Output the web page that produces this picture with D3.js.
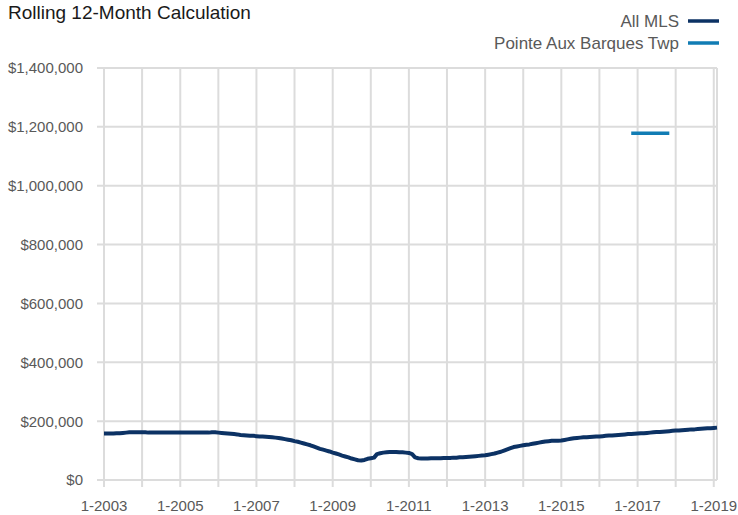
<!DOCTYPE html>
<html>
<head>
<meta charset="utf-8">
<script src="https://cdn.jsdelivr.net/npm/d3@7"></script>
<style>
  body { margin: 0; background: #fff; }
  svg { display: block; font-family: "Liberation Sans", Arial, sans-serif; }
</style>
</head>
<body>
<div id="chart"></div>
<script>
// All MLS rolling 12-month median price, in $ thousands, one row per year (Jan..Dec)
const mlsStartYear = 2003;
const mlsByYear = [
  [158,158,158,158,159,159,160,161,162,162,162,162], // 2003
  [162,162,161,161,161,161,161,161,161,161,161,161], // 2004
  [161,161,161,161,161,161,161,161,161,161,162,162], // 2005
  [161,160,159,158,157,156,155,153,152,151,150,150], // 2006
  [149,148,148,147,146,145,144,143,141,139,137,135], // 2007
  [132,130,127,124,121,118,114,110,106,103,100,97],  // 2008
  [93,90,87,83,80,77,73,70,67,66,68,72],             // 2009
  [74,76,88,91,93,94,95,95,95,94,94,93],             // 2010
  [92,88,77,74,73,73,73,74,74,74,74,75],             // 2011
  [75,75,76,76,77,77,78,79,80,81,82,83],             // 2012
  [84,86,88,90,93,96,100,104,108,112,114,116],       // 2013
  [118,120,121,123,125,127,129,131,132,133,133,133], // 2014
  [134,136,138,140,142,143,144,145,145,146,147,148], // 2015
  [148,149,150,151,151,152,153,154,155,156,156,157], // 2016
  [158,159,159,160,161,162,163,163,164,165,166,167], // 2017
  [168,168,169,170,171,172,172,173,174,175,176,176], // 2018
  [177,178]                                          // 2019
];

// Pointe Aux Barques Twp, 11-2016 .. 11-2017, in $ thousands
const pointeStart = [2016, 10]; // year, month index
const pointeValues = [1178,1178,1178,1178,1178,1178,1178,1178,1178,1178,1178,1178,1178];

const yTicks = [0, 200000, 400000, 600000, 800000, 1000000, 1200000, 1400000];
const seriesNames = ["All MLS", "Pointe Aux Barques Twp"];
const seriesColors = ["#0c3264", "#117cb4"];

const mls = [];
mlsByYear.forEach((row, i) => row.forEach((v, m) => {
  mls.push({date: new Date(mlsStartYear + i, m, 1), value: v * 1000});
}));
const pointe = pointeValues.map((v, i) => ({
  date: new Date(pointeStart[0], pointeStart[1] + i, 1), value: v * 1000
}));

const W = 738, H = 515;
const plotL = 104, plotR = 717, plotT = 68, plotB = 480;

const svg = d3.select("#chart").append("svg")
  .attr("width", W).attr("height", H);

const x = d3.scaleTime()
  .domain([new Date(2003, 0, 1), new Date(2019, 1, 1)])
  .range([plotL, plotR]);
const y = d3.scaleLinear()
  .domain([0, 1400000])
  .range([plotB, plotT]);

const grid = "#dcdcdc";

// horizontal grid + left ticks
svg.append("g").selectAll("line")
  .data(yTicks).enter().append("line")
  .attr("x1", plotL - 7).attr("x2", plotR)
  .attr("y1", d => y(d)).attr("y2", d => y(d))
  .attr("stroke", grid).attr("stroke-width", 2);

// vertical grid every year + bottom ticks
const years = x.ticks(d3.timeYear.every(1));
svg.append("g").selectAll("line")
  .data(years).enter().append("line")
  .attr("x1", d => x(d)).attr("x2", d => x(d))
  .attr("y1", plotT).attr("y2", plotB + 7)
  .attr("stroke", grid).attr("stroke-width", 2);

// right border
svg.append("line")
  .attr("x1", plotR).attr("x2", plotR).attr("y1", plotT).attr("y2", plotB)
  .attr("stroke", grid).attr("stroke-width", 2);

// y labels
const fmt = d3.format("$,");
svg.append("g").selectAll("text")
  .data(yTicks).enter().append("text")
  .attr("x", 83).attr("y", d => y(d)).attr("dy", "0.36em")
  .attr("text-anchor", "end")
  .attr("fill", "#595959").attr("font-size", 15)
  .text(d => fmt(d));

// x labels every other year
svg.append("g").selectAll("text")
  .data(years.filter(d => (d.getFullYear() - 2003) % 2 === 0)).enter().append("text")
  .attr("x", d => x(d)).attr("y", 511)
  .attr("text-anchor", "middle")
  .attr("fill", "#595959").attr("font-size", 15)
  .text(d => "1-" + d.getFullYear());

const line = d3.line()
  .x(d => x(d.date))
  .y(d => y(d.value));

svg.append("path").datum(pointe)
  .attr("d", line).attr("fill", "none")
  .attr("stroke", seriesColors[1]).attr("stroke-width", 3.5);

svg.append("path").datum(mls)
  .attr("d", line).attr("fill", "none")
  .attr("stroke", seriesColors[0]).attr("stroke-width", 4)
  .attr("stroke-linejoin", "round");

// title
svg.append("text")
  .attr("x", 8).attr("y", 19)
  .attr("font-size", 19).attr("fill", "#1a1a1a")
  .text("Rolling 12-Month Calculation");

// legend
const legend = svg.selectAll(".legend")
  .data(seriesNames).enter().append("g")
  .attr("class", "legend")
  .attr("transform", (d, i) => "translate(0," + (21 + i * 22) + ")");

legend.append("line")
  .attr("x1", 688).attr("x2", 719)
  .attr("stroke", (d, i) => seriesColors[i]).attr("stroke-width", 3.5);

legend.append("text")
  .attr("x", 679).attr("y", 0).attr("dy", "0.35em")
  .attr("text-anchor", "end")
  .attr("font-size", 17).attr("fill", "#595959")
  .text(d => d);
</script>
</body>
</html>
